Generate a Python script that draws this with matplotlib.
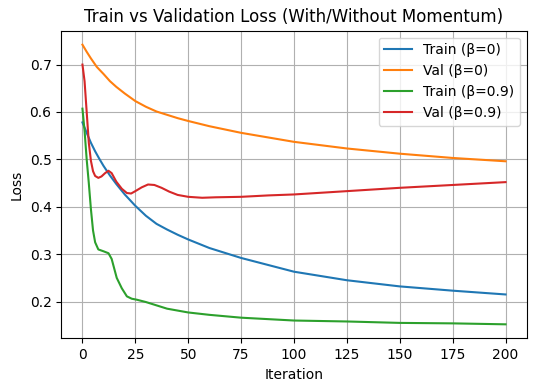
import matplotlib
matplotlib.use("Agg")
import matplotlib.pyplot as plt

train0_x = [0, 2, 4, 6, 8, 10, 13, 16, 20, 25, 30, 35, 40, 45, 50, 60, 75, 100, 125, 150, 175, 200]
train0_y = [0.578, 0.556, 0.535, 0.517, 0.501, 0.486, 0.466, 0.448, 0.426, 0.402, 0.381, 0.364,
            0.352, 0.341, 0.331, 0.313, 0.292, 0.263, 0.245, 0.232, 0.223, 0.215]

val0_x = [0, 2, 4, 6.8, 10, 13, 16, 20, 25, 30, 35, 40, 45, 50, 60, 75, 100, 125, 150, 175, 200]
val0_y = [0.742, 0.727, 0.713, 0.695, 0.68, 0.665, 0.653, 0.639, 0.623, 0.611, 0.601, 0.594,
          0.587, 0.581, 0.57, 0.556, 0.537, 0.523, 0.512, 0.503, 0.496]

train9_x = [0, 1, 2, 3, 4, 5, 6, 7.5, 10, 12.3, 13.8, 16.2, 18.6, 21, 23.3, 25.6, 30, 35, 40,
            45, 50, 60, 75, 100, 125, 150, 175, 200]
train9_y = [0.607, 0.56, 0.50, 0.45, 0.395, 0.35, 0.325, 0.31, 0.306, 0.302, 0.29, 0.25, 0.228,
            0.211, 0.206, 0.204, 0.199, 0.192, 0.185, 0.181, 0.177, 0.172, 0.166, 0.16, 0.158,
            0.155, 0.154, 0.152]

val9_x = [0, 1, 2, 3, 4, 5, 6, 7.5, 9, 10.7, 12.3, 13.8, 16, 18.6, 21, 23, 25, 28, 31, 34,
          37.4, 41, 45, 50, 56.6, 63, 75, 88, 100, 125, 150, 175, 200]
val9_y = [0.70, 0.665, 0.60, 0.535, 0.497, 0.475, 0.465, 0.461, 0.464, 0.471, 0.476, 0.471,
          0.453, 0.438, 0.429, 0.428, 0.433, 0.441, 0.447, 0.446, 0.44, 0.432, 0.425, 0.421,
          0.419, 0.42, 0.421, 0.424, 0.426, 0.433, 0.44, 0.446, 0.452]

fig = plt.figure(figsize=(5.36, 3.91), dpi=100)
ax = fig.add_axes([61.3/536, 1-338.3/391, (526.7-61.3)/536, (338.3-30.7)/391])
ax.plot(train0_x, train0_y, label="Train (β=0)")
ax.plot(val0_x, val0_y, label="Val (β=0)")
ax.plot(train9_x, train9_y, label="Train (β=0.9)")
ax.plot(val9_x, val9_y, label="Val (β=0.9)")
ax.set_xlabel("Iteration")
ax.set_ylabel("Loss")
ax.set_title("Train vs Validation Loss (With/Without Momentum)")
ax.grid(True)
ax.legend(loc="upper right")
fig.savefig("out.png", dpi=100)
